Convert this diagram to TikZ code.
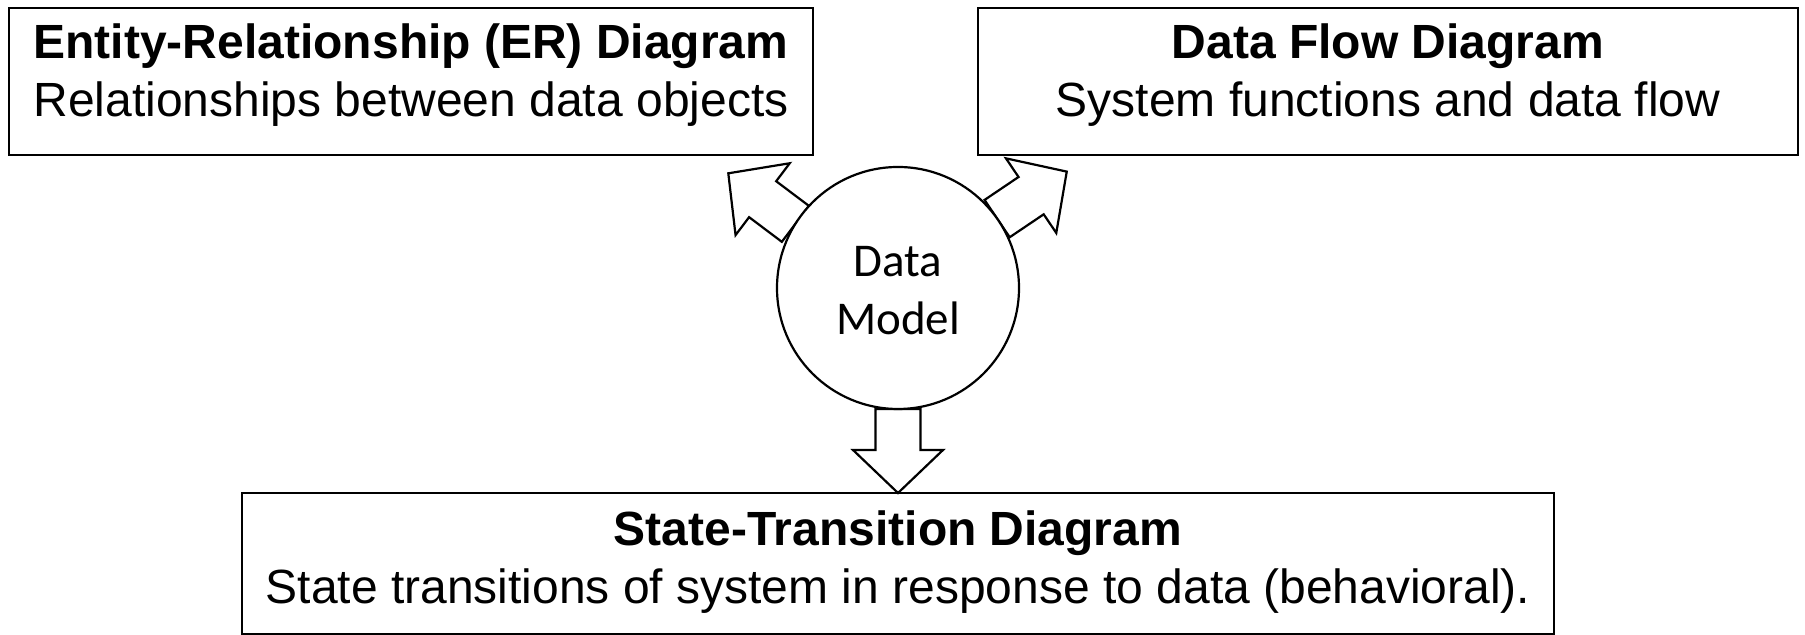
\documentclass[tikz,border=0pt]{standalone}
\usepackage{fontspec}
\setmainfont{Liberation Sans}
\newfontfamily\calibrifont{Carlito}
\begin{document}
\begin{tikzpicture}[x=0.5pt,y=0.5pt, line width=1.1pt,
  box/.style={draw, rectangle, inner sep=0pt},
  txt/.style={align=center, font=\fontsize{24}{29}\selectfont, inner sep=0pt},
  barrow/.pic={\draw[fill=white, line join=miter] (0,-22.5) -- (41,-22.5) -- (41,-45) -- (84,0) -- (41,45) -- (41,22.5) -- (0,22.5) -- cycle;}]
\useasboundingbox (0,0) rectangle (1805,635);
\node[box, minimum width=402pt, minimum height=73.5pt] (er) at (411,553.5) {};
\node[box, minimum width=410pt, minimum height=73.5pt] (dfd) at (1388,553.5) {};
\node[box, minimum width=656pt, minimum height=70.5pt] (st) at (898,71.5) {};
\node[txt] (ertxt) at (411,560) {\textbf{Entity-Relationship (ER) Diagram}\\Relationships between data objects};
\node[txt] (dfdtxt) at (1388,560) {\textbf{Data Flow Diagram}\\System functions and data flow};
\node[txt] (sttxt) at (898,73) {\textbf{State-Transition Diagram}\\State transitions of system in response to data (behavioral).};
\coordinate (c) at (898,347);
\path (c) ++(148:121) coordinate (a1);
\path (c) ++(35:121) coordinate (a2);
\path (c) ++(270:121) coordinate (a3);
\pic[rotate=143] at (a1) {barrow};
\pic[rotate=34] at (a2) {barrow};
\pic[rotate=-90] at (a3) {barrow};
\node[draw, circle, fill=white, minimum size=121pt, inner sep=0pt] (dm) at (c) {};
\node[align=center, inner sep=0pt, font=\calibrifont\fontsize{23.5}{29}\selectfont] (dmtxt) at (898,344) {Data\\Model};
\end{tikzpicture}
\end{document}
